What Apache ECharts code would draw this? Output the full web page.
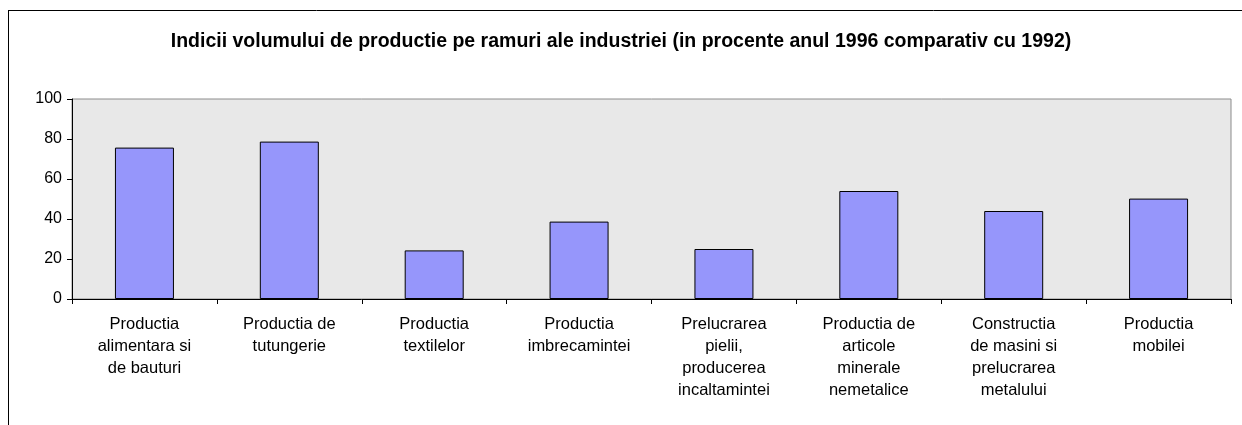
<!DOCTYPE html>
<html>
<head>
<meta charset="utf-8">
<script src="https://cdn.jsdelivr.net/npm/echarts@6/dist/echarts.min.js"></script>
<style>
  html, body { margin: 0; padding: 0; background: #fff; }
  #main { width: 1242px; height: 425px; }
</style>
</head>
<body>
<div id="main"></div>
<script>
// ramuri ale industriei
var categories = [
  'Productia\nalimentara si\nde bauturi',
  'Productia de\ntutungerie',
  'Productia\ntextilelor',
  'Productia\nimbrecamintei',
  'Prelucrarea\npielii,\nproducerea\nincaltamintei',
  'Productia de\narticole\nminerale\nnemetalice',
  'Constructia\nde masini si\nprelucrarea\nmetalului',
  'Productia\nmobilei'
];
// procente 1996 fata de 1992
var values = [75.7, 78.7, 24.3, 38.7, 25, 54, 44, 50.2];
var yTicks = [0, 20, 40, 60, 80, 100];

var chart = echarts.init(document.getElementById('main'));
var font = 'Liberation Sans, Arial, sans-serif';

var option = {
  animation: false,
  backgroundColor: '#fff',
  title: {
    text: 'Indicii volumului de productie pe ramuri ale industriei (in procente anul 1996 comparativ cu 1992)',
    left: 'center',
    top: 31,
    padding: 0,
    textStyle: { fontFamily: font, fontSize: 19.5, fontWeight: 'bold', color: '#000', lineHeight: 22 }
  },
  grid: {
    left: 72, right: 11, top: 99, bottom: 126,
    show: true,
    backgroundColor: '#e8e8e8',
    borderColor: '#8c8c8c',
    borderWidth: 1
  },
  xAxis: {
    type: 'category',
    data: categories,
    axisLine: { lineStyle: { color: '#000', width: 1 } },
    axisTick: { show: true, length: 5, lineStyle: { color: '#000' } },
    axisLabel: {
      interval: 0,
      margin: 14,
      fontFamily: font, fontSize: 16.5, color: '#000', lineHeight: 22,
      align: 'center', verticalAlign: 'top'
    },
    splitLine: { show: false }
  },
  yAxis: {
    type: 'value',
    min: yTicks[0],
    max: yTicks[yTicks.length - 1],
    interval: 20,
    axisLine: { show: true, lineStyle: { color: '#000', width: 1 } },
    axisTick: { show: true, length: 5, lineStyle: { color: '#000' } },
    axisLabel: { margin: 10, fontFamily: font, fontSize: 16, color: '#000' },
    splitLine: { show: false }
  },
  series: [{
    type: 'bar',
    data: values,
    barWidth: 59,
    itemStyle: { color: '#9696fb', borderColor: '#000', borderWidth: 1 }
  }],
  graphic: [
    { type: 'line', shape: { x1: 8.5, y1: 10, x2: 8.5, y2: 425 }, style: { stroke: '#000', lineWidth: 1 } },
    { type: 'line', shape: { x1: 8, y1: 10.5, x2: 1242, y2: 10.5 }, style: { stroke: '#000', lineWidth: 1 } }
  ]
};

chart.setOption(option);
</script>
</body>
</html>
